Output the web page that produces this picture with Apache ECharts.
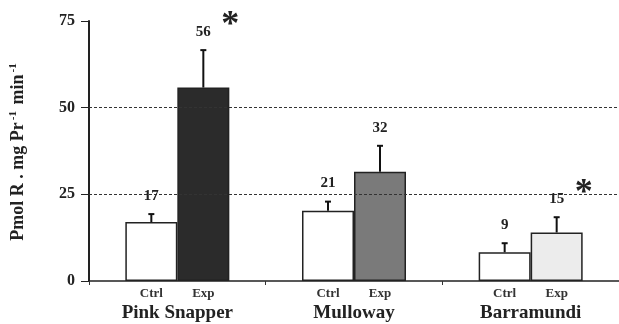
<!DOCTYPE html>
<html><head><meta charset="utf-8">
<script src="https://cdn.jsdelivr.net/npm/echarts@6/dist/echarts.min.js"></script>
<style>html,body{margin:0;padding:0;background:#fff}#c{width:619px;height:324px}</style>
</head><body><div id="c"></div>
<script>
const categories = ["Pink Snapper", "Mulloway", "Barramundi"];
const subLabels = ["Ctrl", "Exp"];
const ctrlValues = [17, 20.3, 8.3];
const expValues = [55.8, 31.5, 14];
const ctrlErr = [2.3, 2.6, 2.6];
const expErr = [10.8, 7.5, 4.4];
const ctrlLabels = ["17", "21", "9"];
const expLabels = ["56", "32", "15"];
const expSignificant = [true, false, true];
const expColors = ["#2b2b2b", "#7a7a7a", "#ececec"];
const gridLines = [25, 50];
const yTicks = [0, 25, 50, 75];

const serif = "'Liberation Serif','DejaVu Serif',serif";
const chart = echarts.init(document.getElementById('c'));

function errSeries(vals, errs, labels, sig, offset) {
  return {
    type: 'custom',
    z: 10,
    data: vals.map((v, i) => [i, v, errs[i]]),
    renderItem: function (params, api) {
      const i = api.value(0), v = api.value(1), e = api.value(2);
      const base = api.coord([i, v]);
      const top = api.coord([i, v + e]);
      const x = base[0] + offset;
      const children = [
        { type: 'line', shape: { x1: x, y1: base[1], x2: x, y2: top[1] }, style: { stroke: '#111', lineWidth: 2 } },
        { type: 'line', shape: { x1: x - 3, y1: top[1], x2: x + 3, y2: top[1] }, style: { stroke: '#111', lineWidth: 2 } },
        { type: 'text', style: { text: labels[params.dataIndex], x: x, y: top[1] - 18, align: 'center', verticalAlign: 'middle', font: 'bold 15px ' + serif, fill: '#222' } }
      ];
      if (sig && sig[params.dataIndex]) {
        children.push({ type: 'text', style: { text: '*', x: x + 27, y: top[1] - 24, align: 'center', verticalAlign: 'middle', font: 'bold 36px ' + serif, fill: '#222' } });
      }
      return { type: 'group', children: children };
    }
  };
}

chart.setOption({
  animation: false,
  grid: { left: 88, right: 0, top: 21, bottom: 43 },
  xAxis: {
    type: 'category',
    data: categories,
    axisLine: { lineStyle: { color: '#222', width: 1.5 } },
    axisTick: { show: true, length: 4, lineStyle: { color: '#333' } },
    axisLabel: {
      margin: 4,
      formatter: function (v) { return '{s|' + subLabels[0] + '}{s|' + subLabels[1] + '}\n{g|' + v + '}'; },
      rich: {
        s: { width: 52, align: 'center', fontFamily: serif, fontWeight: 'bold', fontSize: 13, color: '#333', lineHeight: 18 },
        g: { fontFamily: serif, fontWeight: 'bold', fontSize: 19, color: '#222', lineHeight: 21 }
      }
    }
  },
  yAxis: {
    type: 'value', min: 0, max: 75, interval: 25,
    name: '{n|Pmol R . mg Pr}{u|-1}{n| min}{u|-1}',
    nameLocation: 'middle', nameRotate: 90, nameGap: 60,
    nameTextStyle: {
      rich: {
        n: { fontFamily: serif, fontWeight: 'bold', fontSize: 18, color: '#222' },
        u: { fontFamily: serif, fontWeight: 'bold', fontSize: 11, color: '#222', verticalAlign: 'top', padding: [0, 2, 10, 2] }
      }
    },
    axisLine: { show: true, lineStyle: { color: '#222', width: 2 } },
    axisTick: { show: true, length: 8, lineStyle: { color: '#222' } },
    axisLabel: { margin: 14, fontFamily: serif, fontWeight: 'bold', fontSize: 16, color: '#222',
      formatter: function (v) { return yTicks.indexOf(v) >= 0 ? String(v) : ''; } },
    splitLine: { show: false }
  },
  series: [
    {
      type: 'bar', name: 'Ctrl', data: ctrlValues, barWidth: 52, barGap: '0%',
      itemStyle: { color: '#fff', borderColor: '#222', borderWidth: 1.5 },
      markLine: {
        silent: true, symbol: 'none', label: { show: false },
        lineStyle: { color: '#333', type: [3, 2], width: 1 },
        data: gridLines.map(v => ({ yAxis: v }))
      }
    },
    {
      type: 'bar', name: 'Exp', barWidth: 52, barGap: '0%',
      data: expValues.map((v, i) => ({ value: v, itemStyle: { color: expColors[i] } })),
      itemStyle: { borderColor: '#222', borderWidth: 1.5 }
    },
    errSeries(ctrlValues, ctrlErr, ctrlLabels, null, -26),
    errSeries(expValues, expErr, expLabels, expSignificant, 26)
  ]
});
</script></body></html>
